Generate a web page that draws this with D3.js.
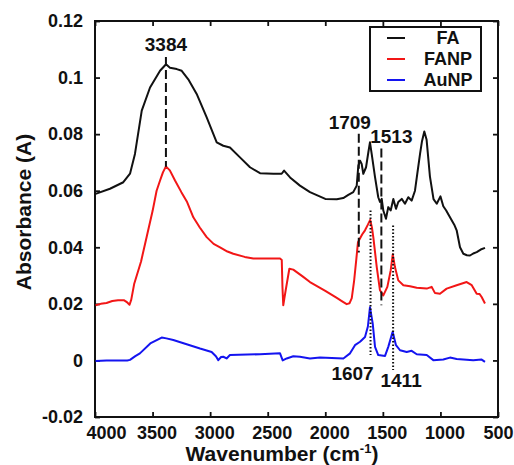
<!DOCTYPE html>
<html>
<head>
<meta charset="utf-8">
<script src="https://cdn.jsdelivr.net/npm/d3@7"></script>
<style>
  html, body { margin: 0; padding: 0; background: #fff; }
  svg { display: block; font-family: "Liberation Sans", Arial, sans-serif; font-weight: bold; }
</style>
</head>
<body>
<svg id="chart" width="514" height="465"></svg>
<script>
(() => {
  /* ---------- DATA ---------- */

  const X_TICKS = [4000, 3500, 3000, 2500, 2000, 1500, 1000, 500];
  const Y_TICKS = [-0.02, 0, 0.02, 0.04, 0.06, 0.08, 0.1, 0.12];

  const SERIES_NAMES = ["FA", "FANP", "AuNP"];

  const FA_WAVE = [3995, 3870, 3754, 3696, 3653, 3594, 3522, 3435, 3383, 3349, 3290, 3247, 3190, 3117,
    3030, 2943, 2886, 2828, 2741, 2654, 2567, 2451, 2379, 2358, 2306, 2220, 2133, 2000, 1900, 1844,
    1800, 1757, 1727, 1713, 1698, 1684, 1670, 1646, 1626, 1612, 1597, 1568, 1540, 1525, 1510, 1496,
    1473, 1453, 1432, 1409, 1386, 1366, 1336, 1308, 1279, 1250, 1221, 1201, 1177, 1160, 1140, 1120,
    1091, 1060, 1032, 1000, 975, 950, 917, 880, 859, 830, 801, 770, 743, 715, 685, 650, 613];
  const FA_ABS = [0.0589, 0.0607, 0.0630, 0.0660, 0.0730, 0.0883, 0.0965, 0.1024, 0.1047, 0.1035, 0.1030,
    0.1024, 0.0994, 0.0942, 0.0859, 0.0771, 0.0759, 0.0753, 0.0718, 0.0683, 0.0662, 0.0660, 0.0660,
    0.0671, 0.0647, 0.0618, 0.0595, 0.0571, 0.0570, 0.0574, 0.0585, 0.0595, 0.0618, 0.0689, 0.0706,
    0.0695, 0.0660, 0.0683, 0.0736, 0.0771, 0.0730, 0.0648, 0.0577, 0.0560, 0.0571, 0.0530, 0.0501,
    0.0542, 0.0530, 0.0571, 0.0536, 0.0560, 0.0571, 0.0554, 0.0577, 0.0565, 0.0600, 0.0660, 0.0730,
    0.0775, 0.0809, 0.0780, 0.0650, 0.0570, 0.0554, 0.0580, 0.0545, 0.0530, 0.0506, 0.0480, 0.0460,
    0.0400, 0.0377, 0.0372, 0.0371, 0.0378, 0.0383, 0.0392, 0.0398];

  const FANP_WAVE = [3995, 3950, 3900, 3850, 3800, 3750, 3720, 3700, 3685, 3660, 3600, 3550, 3500, 3465,
    3435, 3410, 3384, 3350, 3305, 3250, 3200, 3146, 3090, 3030, 2970, 2914, 2850, 2799, 2700, 2625,
    2500, 2393, 2378, 2372, 2365, 2355, 2344, 2312, 2278, 2200, 2133, 2000, 1900, 1850, 1814, 1790,
    1770, 1750, 1730, 1716, 1700, 1680, 1655, 1630, 1610, 1595, 1583, 1553, 1525, 1496, 1461, 1432,
    1414, 1395, 1366, 1322, 1264, 1206, 1119, 1076, 1047, 1004, 946, 859, 772, 728, 685, 660, 642, 613];
  const FANP_ABS = [0.0195, 0.0200, 0.0203, 0.0210, 0.0213, 0.0213, 0.0205, 0.0197, 0.0215, 0.0270,
    0.0350, 0.0439, 0.0528, 0.0600, 0.0636, 0.0665, 0.0686, 0.0672, 0.0636, 0.0595, 0.0560, 0.0506,
    0.0470, 0.0436, 0.0412, 0.0400, 0.0385, 0.0377, 0.0366, 0.0360, 0.0360, 0.0360, 0.0355, 0.0260,
    0.0195, 0.0220, 0.0248, 0.0324, 0.0321, 0.0298, 0.0277, 0.0246, 0.0221, 0.0208, 0.0199, 0.0202,
    0.0220, 0.0280, 0.0360, 0.0418, 0.0430, 0.0445, 0.0460, 0.0480, 0.0497, 0.0470, 0.0436, 0.0330,
    0.0248, 0.0230, 0.0260, 0.0318, 0.0375, 0.0330, 0.0283, 0.0266, 0.0262, 0.0257, 0.0254, 0.0260,
    0.0238, 0.0236, 0.0254, 0.0266, 0.0277, 0.0266, 0.0236, 0.0235, 0.0224, 0.0201];

  const AUNP_WAVE = [3995, 3900, 3800, 3720, 3696, 3650, 3610, 3520, 3421, 3380, 3320, 3204, 3088, 2987,
    2950, 2929, 2905, 2886, 2857, 2828, 2567, 2393, 2370, 2335, 2278, 2220, 2133, 2046, 1843, 1785,
    1742, 1698, 1655, 1630, 1612, 1588, 1568, 1540, 1481, 1453, 1415, 1386, 1351, 1293, 1250, 1206,
    1119, 1062, 975, 917, 859, 715, 642, 613];
  const AUNP_ABS = [-0.0002, 0.0000, 0.0000, 0.0000, 0.0002, 0.0015, 0.0025, 0.0060, 0.0081, 0.0078,
    0.0072, 0.0057, 0.0042, 0.0030, 0.0015, 0.0001, 0.0012, 0.0013, 0.0007, 0.0019, 0.0022, 0.0025,
    0.0000, 0.0007, 0.0015, 0.0013, 0.0007, 0.0010, 0.0007, 0.0025, 0.0054, 0.0066, 0.0083, 0.0120,
    0.0188, 0.0130, 0.0048, 0.0019, 0.0016, 0.0048, 0.0101, 0.0054, 0.0036, 0.0030, 0.0034, 0.0022,
    0.0019, 0.0001, 0.0003, 0.0010, 0.0005, 0.0001, 0.0003, -0.0005];

  // peak markers: wavenumber, label, line top / bottom (absorbance)
  const PEAK_WAVE = [3384, 1709, 1513, 1607, 1411];
  const PEAK_LABEL = ["3384", "1709", "1513", "1607", "1411"];
  const PEAK_TOP = [0.1073, 0.0801, 0.0749, 0.0530, 0.0477];
  const PEAK_BOTTOM = [0.0685, 0.0382, 0.0195, 0.0019, -0.0034];

  /* ---------- LAYOUT ---------- */

  const svg = d3.select("#chart");
  const width = 514;
  const height = 465;
  const margin = { top: 21, right: 16, bottom: 48, left: 95 };
  const innerWidth = width - margin.left - margin.right;
  const innerHeight = height - margin.top - margin.bottom;

  const COLORS = ["#111", "#f21616", "#1414f0"];
  const FONT = "\"Liberation Sans\", Arial, sans-serif";

  const g = svg.append("g")
    .attr("transform", `translate(${margin.left},${margin.top})`);

  const x = d3.scaleLinear().domain([4000, 500]).range([0, innerWidth]);
  const y = d3.scaleLinear().domain([-0.02, 0.12]).range([innerHeight, 0]);

  const fmtY = d => String(+d.toFixed(2));

  /* ---------- AXES ---------- */

  const styleAxis = sel => {
    sel.select(".domain").remove();
    sel.selectAll("line").attr("stroke", "#111").attr("stroke-width", 1.8);
    sel.selectAll("text")
      .attr("fill", "#111")
      .style("font-family", FONT)
      .style("font-weight", "bold")
      .style("font-size", "18px");
  };

  g.append("g")
    .attr("transform", `translate(0,${innerHeight})`)
    .call(d3.axisBottom(x).tickValues(X_TICKS).tickSize(-5).tickPadding(9).tickFormat(d3.format("d")))
    .call(styleAxis)
    .call(a => a.selectAll(".tick text")
      .attr("dx", (d, i) => (i === 0 ? 11 : i === X_TICKS.length - 1 ? 0 : 4)));

  g.append("g")
    .call(d3.axisTop(x).tickValues(X_TICKS).tickSize(-5).tickFormat(""))
    .call(styleAxis);

  g.append("g")
    .call(d3.axisLeft(y).tickValues(Y_TICKS).tickSize(-5).tickPadding(12).tickFormat(fmtY))
    .call(styleAxis);

  g.append("g")
    .attr("transform", `translate(${innerWidth},0)`)
    .call(d3.axisRight(y).tickValues(Y_TICKS).tickSize(-5).tickFormat(""))
    .call(styleAxis);

  g.append("rect")
    .attr("width", innerWidth)
    .attr("height", innerHeight)
    .attr("fill", "none")
    .attr("stroke", "#111")
    .attr("stroke-width", 2);

  /* ---------- SERIES ---------- */

  const series = [
    { name: SERIES_NAMES[0], wave: FA_WAVE, abs: FA_ABS },
    { name: SERIES_NAMES[1], wave: FANP_WAVE, abs: FANP_ABS },
    { name: SERIES_NAMES[2], wave: AUNP_WAVE, abs: AUNP_ABS }
  ];

  const line = d3.line()
    .x(d => x(d[0]))
    .y(d => y(d[1]));

  g.selectAll("path.spec")
    .data(series)
    .join("path")
    .attr("class", "spec")
    .attr("d", s => line(s.wave.map((w, i) => [w, s.abs[i]])))
    .attr("fill", "none")
    .attr("stroke", (s, i) => COLORS[i])
    .attr("stroke-width", 2)
    .attr("stroke-linejoin", "round");

  /* ---------- PEAK MARKERS ---------- */

  // label offsets (px): dx, and where the text sits relative to the line
  const labelDx = [0, -9, 10, -18, 8];
  const labelAtTop = [true, true, true, false, false];
  const labelDy = [-6, -5, -6, 25, 17];

  PEAK_WAVE.forEach((w, i) => {
    const dotted = i >= 3;
    g.append("line")
      .attr("x1", x(w)).attr("x2", x(w))
      .attr("y1", y(PEAK_TOP[i])).attr("y2", y(PEAK_BOTTOM[i]))
      .attr("stroke", "#111")
      .attr("stroke-width", 2)
      .attr("stroke-dasharray", dotted ? "1.5,2" : "9,4");

    g.append("text")
      .attr("x", x(w) + labelDx[i])
      .attr("y", (labelAtTop[i] ? y(PEAK_TOP[i]) : y(PEAK_BOTTOM[i])) + labelDy[i])
      .attr("text-anchor", "middle")
      .attr("fill", "#111")
      .style("font-size", "19px")
      .text(PEAK_LABEL[i]);
  });

  /* ---------- LEGEND ---------- */

  const legend = svg.append("g").attr("transform", "translate(370,27)");

  legend.append("rect")
    .attr("width", 111)
    .attr("height", 64)
    .attr("fill", "#fff")
    .attr("stroke", "#111")
    .attr("stroke-width", 2);

  SERIES_NAMES.forEach((name, i) => {
    const row = legend.append("g").attr("transform", `translate(0,${11 + i * 21})`);
    row.append("line")
      .attr("x1", 17).attr("x2", 35)
      .attr("stroke", COLORS[i])
      .attr("stroke-width", 2);
    row.append("text")
      .attr("x", 78)
      .attr("dy", "0.36em")
      .attr("text-anchor", "middle")
      .attr("fill", "#111")
      .style("font-size", "18px")
      .text(name);
  });

  /* ---------- TITLES ---------- */

  const xTitle = svg.append("text")
    .attr("x", 282)
    .attr("y", 461)
    .attr("text-anchor", "middle")
    .attr("fill", "#111")
    .style("font-size", "21px");
  xTitle.append("tspan").text("Wavenumber (cm");
  xTitle.append("tspan").attr("dy", -8).style("font-size", "13px").text("-1");
  xTitle.append("tspan").attr("dy", 8).text(")");

  svg.append("text")
    .attr("transform", "rotate(-90)")
    .attr("x", -212)
    .attr("y", 31)
    .attr("text-anchor", "middle")
    .attr("fill", "#111")
    .style("font-size", "21px")
    .text("Absorbance (A)");
})();
</script>
</body>
</html>
